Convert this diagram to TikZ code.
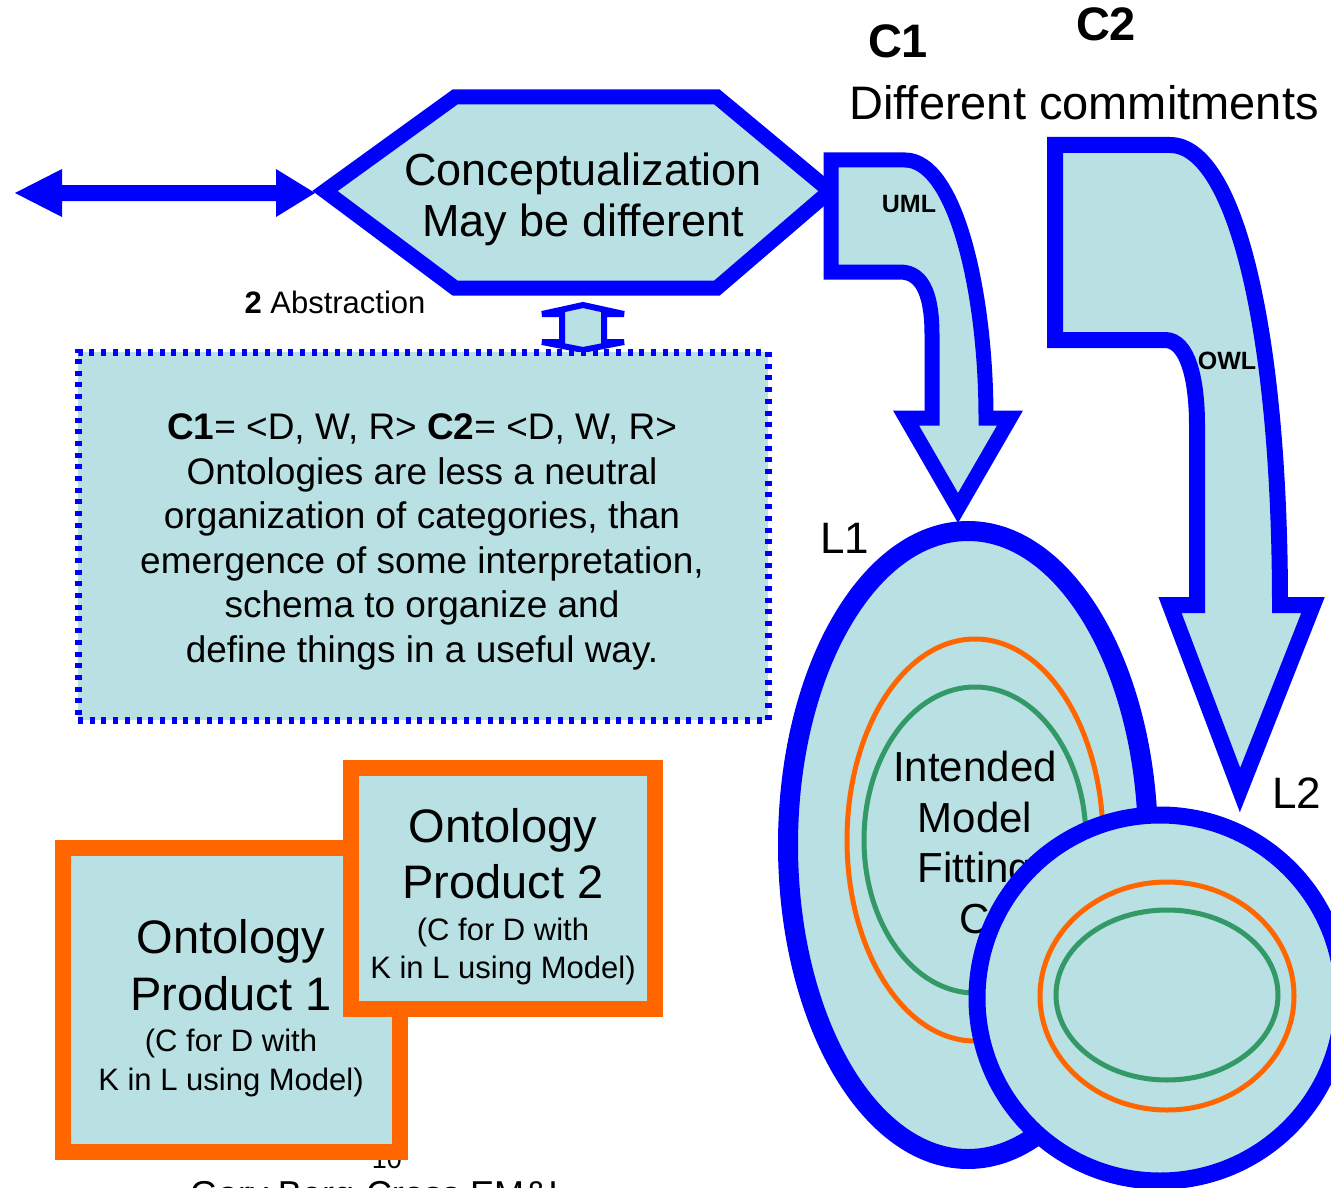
\documentclass[tikz,border=0pt]{standalone}
\usepackage{fontspec}
\setmainfont{Liberation Sans}
\usetikzlibrary{shapes.geometric}
\definecolor{fillb}{RGB}{185,224,227}
\definecolor{myblue}{RGB}{0,0,255}
\definecolor{myorange}{RGB}{255,102,0}
\definecolor{mygreen}{RGB}{51,153,102}
\newcommand\myfs[2]{\fontsize{#1pt}{#2pt}\selectfont}
\begin{document}
\begin{tikzpicture}[x=1pt,y=-1pt,
  every node/.style={inner sep=0pt, outer sep=0pt, text=black},
  bluepath/.style={draw=myblue, fill=fillb, line join=miter, line width=#1},
  orangebox/.style={draw=myorange, fill=fillb, line width=16pt, rectangle},
  ringell/.style={ellipse, draw=#1, line width=5pt},
  txt/.style={anchor=base, align=center},
]
\clip (0,0) rectangle (1331,1188);

% page number and footer (partly hidden)
\node[anchor=base, font=\myfs{27}{32}] (pagenum) at (387,1168) {10};
\node[anchor=base west, font=\myfs{36}{40}] (footer) at (190,1206) {Gary Berg-Cross EM\&I};

% hexagon: conceptualization
\coordinate (hl) at (325,191);
\coordinate (hr) at (830,191);
\draw[bluepath=15pt] (hl) -- (455,97) -- (717,97) -- (hr) -- (717,288) -- (455,288) -- cycle;
\node[txt, font=\myfs{45}{51}] (concept) at (583,236) {Conceptualization\\May be different};

% left double arrow
\coordinate (arrL) at (15,193);
\coordinate (arrR) at (315,193);
\fill[myblue] (arrL) -- (62,169) -- (62,185) -- (276,185) -- (276,169) -- (arrR) -- (276,217) -- (276,201) -- (62,201) -- (62,217) -- cycle;

% small vertical double arrow
\draw[bluepath=6pt, miter limit=1.5] (583,305) -- (624,314) -- (604,314) -- (604,342) -- (624,342) -- (583,350) -- (542,342) -- (562,342) -- (562,314) -- (542,314) -- cycle;

\node[anchor=base, font=\myfs{31}{36}] (abstr) at (335,313) {\textbf{2} Abstraction};

% dotted box
\node[draw=myblue, fill=fillb, line width=7pt, dash pattern=on 5pt off 6.7pt, minimum width=690pt, minimum height=368pt] (def) at (423,536) {};
\node[txt, font=\myfs{37}{44.5}] (deftext) at (422,662) {\textbf{C1}= <D, W, R> \textbf{C2}= <D, W, R>\\Ontologies are less a neutral\\organization of categories, than\\emergence of some interpretation,\\schema to organize and\\define things in a useful way.};

% UML arrow
\draw[bluepath=15pt] (831,160) -- (905,160) .. controls (955,160) and (986,290) .. (986,418) -- (1010,418) -- (958,508) -- (906,418) -- (932,418) -- (932,335) .. controls (932,300) and (925,272) .. (900,272) -- (831,272) -- cycle;
\node[anchor=base, font=\myfs{25}{30}\bfseries] (uml) at (909,212) {UML};

% OWL arrow
\draw[bluepath=16pt] (1055,145) -- (1170,145) .. controls (1235,145) and (1280,330) .. (1280,605) -- (1313,605) -- (1240,790) -- (1170,605) -- (1197,605) -- (1197,425) .. controls (1197,380) and (1188,340) .. (1165,340) -- (1055,340) -- cycle;
\node[anchor=base, font=\myfs{25}{30}\bfseries] (owl) at (1227,369) {OWL};

% L1
\node[ellipse, draw=myblue, fill=fillb, line width=20pt, minimum width=360pt, minimum height=628pt] (L1) at (968,845) {};
\node[ringell=myorange, minimum width=256pt, minimum height=402pt] (L1o) at (975,840) {};
\node[ringell=mygreen, minimum width=222pt, minimum height=306pt] (L1g) at (975,840) {};
\node[txt, font=\myfs{42}{50.5}] (L1txt) at (975,933) {Intended\\Model\\Fitting\\C};

% L2
\node[circle, draw=myblue, fill=fillb, line width=17pt, minimum size=366pt] (L2) at (1160,998) {};
\node[ringell=myorange, minimum width=254pt, minimum height=228pt] (L2o) at (1167,996) {};
\node[ringell=mygreen, minimum width=222pt, minimum height=170pt] (L2g) at (1167,995) {};

% labels
\node[anchor=base west, font=\myfs{47}{52}\bfseries] (c1) at (868,58) {C1};
\node[anchor=base west, font=\myfs{47}{52}\bfseries] (c2) at (1076,41) {C2};
\node[anchor=base, font=\myfs{47}{52}] (diff) at (1084,120) {Different commitments};
\node[anchor=base west, font=\myfs{44}{50}] (l1lab) at (820,553) {L1};
\node[anchor=base west, font=\myfs{44}{50}] (l2lab) at (1272,808) {L2};

% ontology products
\node[orangebox, minimum width=337pt, minimum height=304pt] (op1) at (231.5,1000) {};
\node[txt, font=\myfs{47}{57}] (op1t) at (231,1010) {Ontology\\Product 1};
\node[txt, font=\myfs{31}{39}] (op1s) at (231,1090) {(C for D with\\K in L using Model)};
\node[orangebox, minimum width=304pt, minimum height=241pt] (op2) at (503,888.5) {};
\node[txt, font=\myfs{47}{56}] (op2t) at (503,898) {Ontology\\Product 2};
\node[txt, font=\myfs{31}{38}] (op2s) at (503,978) {(C for D with\\K in L using Model)};
\end{tikzpicture}
\end{document}
